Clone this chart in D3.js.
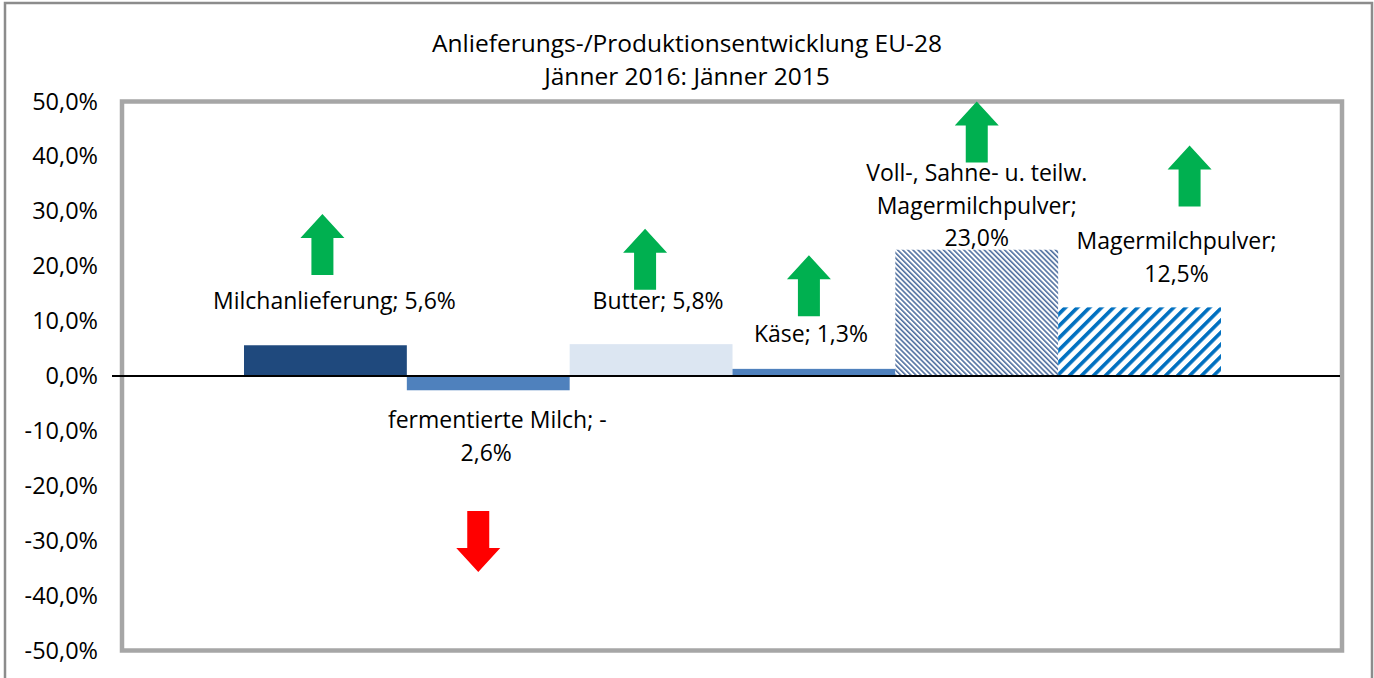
<!DOCTYPE html>
<html>
<head>
<meta charset="utf-8">
<script src="https://cdn.jsdelivr.net/npm/d3@7"></script>
<style>
  body { margin: 0; background: #fff; }
  text { font-family: "Open Sans", Lato, sans-serif; fill: #000; }
</style>
</head>
<body>
<svg id="chart" width="1374" height="678"></svg>
<script>
// chart data
var products = ["Milchanlieferung", "fermentierte Milch", "Butter", "Käse",
                "Voll-, Sahne- u. teilw. Magermilchpulver", "Magermilchpulver"];
var changes = [5.6, -2.6, 5.8, 1.3, 23.0, 12.5];
var fills = ["#1f497d", "#4f81bd", "#dce6f2", "#4f81bd", "url(#hatchFine)", "url(#hatchWide)"];
// label lines; labelY = value (%) at the centre of the first line
var labelLines = [
  ["Milchanlieferung; 5,6%"],
  ["fermentierte Milch; -", "2,6%"],
  ["Butter; 5,8%"],
  ["Käse; 1,3%"],
  ["Voll-, Sahne- u. teilw.", "Magermilchpulver;", "23,0%"],
  ["Magermilchpulver;", "12,5%"]
];
var labelY = [13.4, -8.35, 13.4, 7.45, 36.7, 24.3];
var labelDx = [9, 9, 7, -3, 0, 37];
// trend arrows: tip value (%) and direction
var arrowTip = [29.5, -35.7, 26.8, 22.0, 50.0, 42.0];
var arrowDir = ["up", "down", "up", "up", "up", "up"];
var arrowDx = [-3, -10, -6, -5, 0, 50];
var yTicks = [50, 40, 30, 20, 10, 0, -10, -20, -30, -40, -50];

var svg = d3.select("#chart");

// hatch patterns
var defs = svg.append("defs");
var p1 = defs.append("pattern")
  .attr("id", "hatchFine")
  .attr("patternUnits", "userSpaceOnUse")
  .attr("width", 3.6).attr("height", 3.6)
  .attr("patternTransform", "rotate(-45)");
p1.append("rect").attr("width", 3.6).attr("height", 3.6).attr("fill", "#fff");
p1.append("rect").attr("width", 1.6).attr("height", 3.6).attr("fill", "#4f6f9f");

var p2 = defs.append("pattern")
  .attr("id", "hatchWide")
  .attr("patternUnits", "userSpaceOnUse")
  .attr("width", 8.5).attr("height", 8.5)
  .attr("patternTransform", "rotate(45)");
p2.append("rect").attr("width", 8.5).attr("height", 8.5).attr("fill", "#fff");
p2.append("rect").attr("width", 3.6).attr("height", 8.5).attr("fill", "#0070c0");

// outer border
svg.append("path")
  .attr("d", "M5,678 V3 H1372 V678")
  .attr("fill", "none")
  .attr("stroke", "#8c8c8c")
  .attr("stroke-width", 2.5);

// title
var title = svg.append("text")
  .attr("text-anchor", "middle")
  .style("font-size", "24.5px");
title.append("tspan").attr("x", 687).attr("y", 52).text("Anlieferungs-/Produktionsentwicklung EU-28");
title.append("tspan").attr("x", 687).attr("y", 85).text("Jänner 2016: Jänner 2015");

var plot = {x0: 122, x1: 1342, y0: 101.5, y1: 650.5};

var y = d3.scaleLinear().domain([-50, 50]).range([plot.y1, plot.y0]);
var x = d3.scaleBand().domain(products).range([244, 1221]).padding(0);

// plot area frame
svg.append("rect")
  .attr("x", plot.x0).attr("y", plot.y0)
  .attr("width", plot.x1 - plot.x0).attr("height", plot.y1 - plot.y0)
  .attr("fill", "none")
  .attr("stroke", "#a6a6a6")
  .attr("stroke-width", 4.5);

// y axis labels
var yAxis = d3.axisLeft(y)
  .tickValues(yTicks)
  .tickSize(0)
  .tickPadding(0)
  .tickFormat(function(d){
    return d3.format(".1f")(d).replace(".", ",").replace("−", "-") + "%";
  });
var gy = svg.append("g")
  .attr("transform", "translate(98,0)")
  .call(yAxis);
gy.select(".domain").remove();
gy.selectAll("text")
  .style("font-size", "23.5px")
  .style("font-family", "'Open Sans', Lato, sans-serif")
  .attr("fill", "#000");

// bars
svg.append("g").selectAll("rect")
  .data(changes)
  .enter().append("rect")
  .attr("x", function(d, i){ return x(products[i]); })
  .attr("y", function(d){ return y(Math.max(0, d)); })
  .attr("width", x.bandwidth())
  .attr("height", function(d){ return Math.abs(y(d) - y(0)); })
  .attr("fill", function(d, i){ return fills[i]; });

// zero line
svg.append("line")
  .attr("x1", 112).attr("x2", plot.x1 - 2)
  .attr("y1", y(0)).attr("y2", y(0))
  .attr("stroke", "#000")
  .attr("stroke-width", 2);

// data labels
var labels = svg.append("g").selectAll("text")
  .data(labelLines)
  .enter().append("text")
  .attr("text-anchor", "middle")
  .style("font-size", "23px");
labels.each(function(lines, i){
  var t = d3.select(this);
  var cx = x(products[i]) + x.bandwidth() / 2 + labelDx[i];
  lines.forEach(function(s, k){
    t.append("tspan")
      .attr("x", cx)
      .attr("y", y(labelY[i]) + k * 32.5 + 6.5)
      .text(s);
  });
});
// fermentierte Milch second line sits slightly left
labels.filter(function(d, i){ return i === 1; })
  .select("tspan:nth-child(2)").attr("dx", -11);

// arrows
function arrowPath(dir){
  // arrow shape relative to tip (0,0), length 61
  var hw = 22, sw = 11, head = 24, len = 61;
  var s = dir === "up" ? 1 : -1;
  return "M0,0 L" + hw + "," + s * head + " L" + sw + "," + s * head + " L" + sw + "," + s * len +
         " L" + (-sw) + "," + s * len + " L" + (-sw) + "," + s * head + " L" + (-hw) + "," + s * head + "Z";
}
svg.append("g").selectAll("path")
  .data(arrowTip)
  .enter().append("path")
  .attr("transform", function(d, i){
    var cx = x(products[i]) + x.bandwidth() / 2 + arrowDx[i];
    return "translate(" + cx + "," + y(d) + ")";
  })
  .attr("d", function(d, i){ return arrowPath(arrowDir[i]); })
  .attr("fill", function(d, i){ return arrowDir[i] === "up" ? "#00b050" : "#ff0000"; });
</script>
</body>
</html>
